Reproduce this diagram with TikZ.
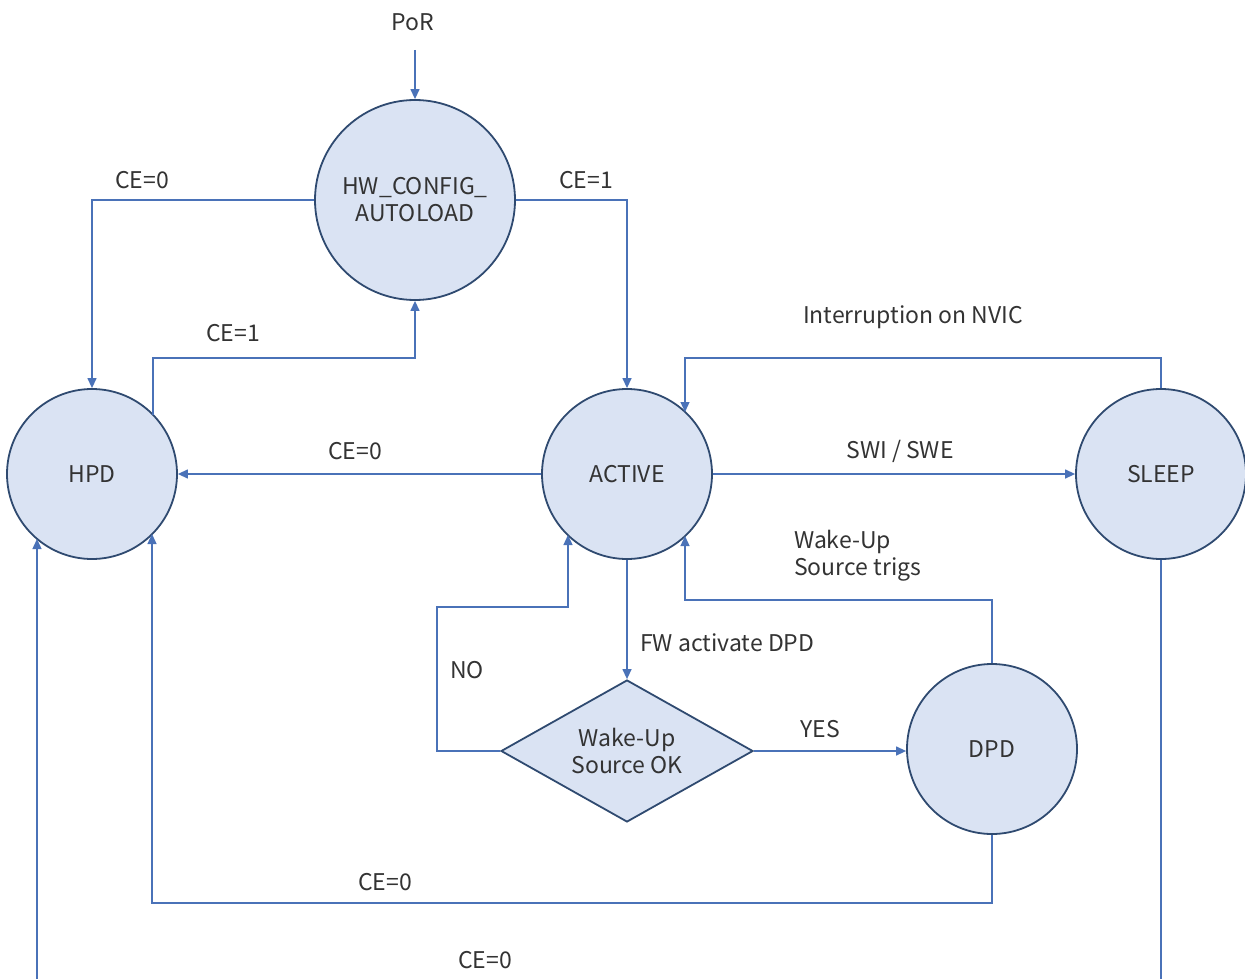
\documentclass[tikz,border=0pt]{standalone}
\usepackage{fontspec}
\setmainfont{Noto Sans CJK JP}
\usetikzlibrary{shapes.geometric,arrows.meta,calc}
\definecolor{linec}{HTML}{4A72B8}
\definecolor{fillc}{HTML}{DAE3F3}
\definecolor{borderc}{HTML}{2F4A70}
\definecolor{textc}{HTML}{333333}
\tikzset{
  state/.style={circle,draw=borderc,fill=fillc,line width=1.8pt,minimum size=170pt,inner sep=0pt,text=textc,font=\fontsize{23}{27}\selectfont,align=center},
  decision/.style={diamond,draw=borderc,fill=fillc,line width=1.8pt,minimum width=252pt,minimum height=142pt,aspect=1.77,inner sep=0pt,text=textc,font=\fontsize{23}{27}\selectfont,align=center},
  conn/.style={draw=linec,line width=1.3pt,-{Triangle[length=10pt,width=9pt]}},
  lbl/.style={text=textc,font=\fontsize{23}{27}\selectfont,inner sep=0pt,align=left}
}
\begin{document}
\begin{tikzpicture}[x=1pt,y=-1pt]
\useasboundingbox (0,0) rectangle (1245,979);
\clip (0,0) rectangle (1245,979);
\node[state,minimum size=200pt] (hw) at (415,200) {HW\_CONFIG\_\\AUTOLOAD};
\node[state] (hpd) at (92,474) {HPD};
\node[state] (act) at (627,474) {ACTIVE};
\node[state] (slp) at (1161,474) {SLEEP};
\node[state] (dpd) at (992,749) {DPD};
\node[decision] (dec) at (627,751) {Wake-Up\\Source OK};
\coordinate (por) at (415,50);
\node[lbl] (porl) at (413,22) {PoR};
\draw[conn] (por) -- (hw.north);
% HW -> HPD
\draw[conn] (hw.west) -| (hpd.north);
\node[lbl] (l1) at (142,180) {CE=0};
% HPD -> HW
\draw[conn] ($(hpd.center)+(61,-59)$) |- (415,358) -- (hw.south);
\node[lbl] (l2) at (233,333) {CE=1};
% HW -> ACTIVE
\draw[conn] (hw.east) -| (act.north);
\node[lbl] (l3) at (586,180) {CE=1};
% ACTIVE -> HPD
\draw[conn] (act.west) -- (hpd.east);
\node[lbl] (l4) at (355,451) {CE=0};
% ACTIVE -> SLEEP
\draw[conn] (act.east) -- (slp.west);
\node[lbl] (l5) at (900,451) {SWI / SWE};
% SLEEP -> ACTIVE
\draw[conn] (slp.north) |- (685,358) -- ($(act.center)+(58,-62)$);
\node[lbl] (l6) at (913,317) {Interruption on NVIC};
% ACTIVE -> decision
\draw[conn] (act.south) -- (dec.north);
\node[lbl,anchor=west] (l7) at (640,643) {FW activate DPD};
% decision NO -> ACTIVE
\draw[conn] (dec.west) -- (437,751) -- (437,607) -- (568,607) -- ($(act.center)+(-59,61)$);
\node[lbl] (l8) at (467,670) {NO};
% decision YES -> DPD
\draw[conn] (dec.east) -- (dpd.west |- dec.east);
\node[lbl] (l9) at (820,729) {YES};
% DPD -> ACTIVE
\draw[conn] (dpd.north) |- (685,600) -- ($(act.center)+(58,62)$);
\node[lbl,anchor=west] (l10) at (794,556) {Wake-Up\\Source trigs};
% DPD -> HPD
\draw[conn] (dpd.south) |- (152,903) -- ($(hpd.center)+(60,60)$);
\node[lbl] (l11) at (385,882) {CE=0};
% SLEEP -> HPD (off bottom)
\draw[conn] (slp.south) -- (1161,1000) -- (37,1000) -- ($(hpd.center)+(-55,65)$);
\node[lbl] (l12) at (485,960) {CE=0};
\end{tikzpicture}
\end{document}
